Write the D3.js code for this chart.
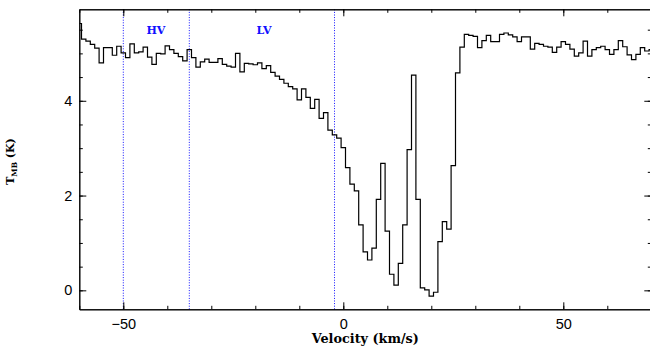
<!DOCTYPE html>
<html>
<head>
<meta charset="utf-8">
<script src="https://cdn.jsdelivr.net/npm/d3@7"></script>
<style>
  html, body { margin: 0; padding: 0; background: #fff; }
  svg { display: block; }
</style>
</head>
<body>
<svg id="chart" width="650" height="347"></svg>
<script>
// Channel centre velocities (km/s)
const velocity = [
  -60,-59,-58,-57,-56,-55,-54,-53,-52,-51,-50,-49,-48,-47,-46,-45,-44,-43,-42,-41,
  -40,-39,-38,-37,-36,-35,-34,-33,-32,-31,-30,-29,-28,-27,-26,-25,-24,-23,-22,-21,
  -20,-19,-18,-17,-16,-15,-14,-13,-12,-11,-10,-9,-8,-7,-6,-5,-4,-3,-2,-1,
  0,1,2,3,4,5,6,7,8,9,10,11,12,13,14,15,16,17,18,19,
  20,21,22,23,24,25,26,27,28,29,30,31,32,33,34,35,36,37,38,39,
  40,41,42,43,44,45,46,47,48,49,50,51,52,53,54,55,56,57,58,59,
  60,61,62,63,64,65,66,67,68,69,70
];

// Main-beam brightness temperature per channel (K)
const tmb = [
  5.63,5.30,5.26,5.19,5.11,4.80,5.12,5.12,4.96,5.15,5.01,4.91,5.20,5.01,5.03,5.13,4.92,4.77,5.00,4.99,
  5.16,5.08,5.00,4.93,4.84,5.08,4.91,4.71,4.82,4.88,4.81,4.81,4.89,4.77,4.73,4.71,5.00,4.61,4.79,4.78,
  4.76,4.80,4.68,4.74,4.60,4.52,4.45,4.37,4.30,4.25,4.02,4.25,4.07,3.84,4.03,3.63,3.75,3.38,3.28,3.21,
  3.01,2.59,2.24,2.10,1.38,0.81,0.64,0.89,1.92,2.68,1.25,0.34,0.11,0.57,1.38,2.97,4.54,1.92,0.05,0.01,
  -0.12,-0.04,1.03,1.45,1.29,2.63,4.59,5.13,5.40,5.38,5.36,5.12,5.27,5.38,5.25,5.25,5.40,5.43,5.39,5.35,
  5.25,5.35,5.35,5.09,5.21,5.19,5.15,5.13,5.02,5.13,5.25,5.19,5.09,4.94,5.01,5.26,4.94,5.08,5.12,5.15,
  5.08,4.98,5.08,5.27,5.14,4.97,4.87,4.98,5.12,5.05,5.08
];

// Velocity markers and their region labels
const markerVelocities = [-50, -35, -2];
const regionLabels = ["HV", "LV"];
const regionLabelVelocities = [-42.6, -18];

// Axis ticks
const xMajorTicks = [-50, 0, 50];
const xMinorTicks = [-60,-50,-40,-30,-20,-10,0,10,20,30,40,50,60,70];
const yMajorTicks = [0, 2, 4];
const yMinorTicks = [0,0.5,1,1.5,2,2.5,3,3.5,4,4.5,5,5.5];

const svg = d3.select("#chart");
const plotLeft = 79.3, plotRight = 651.3, plotTop = 9.3, plotBottom = 309.3;
const serif = "'DejaVu Serif', serif";
const sans = "'Liberation Sans', Arial, sans-serif";

const x = d3.scaleLinear().domain([-60, 70]).range([plotLeft, plotRight]);
const y = d3.scaleLinear().domain([-0.4, 5.93]).range([plotBottom, plotTop]);

svg.append("defs").append("clipPath").attr("id", "plotClip")
  .append("rect").attr("x", plotLeft).attr("y", plotTop)
  .attr("width", plotRight - plotLeft).attr("height", plotBottom - plotTop);

// Dotted velocity markers
svg.append("g").selectAll("line").data(markerVelocities).join("line")
  .attr("x1", d => x(d)).attr("x2", d => x(d))
  .attr("y1", plotTop).attr("y2", plotBottom)
  .attr("stroke", "#1010ff").attr("stroke-width", 1)
  .attr("stroke-dasharray", "1,1.6");

// Region labels
svg.append("g").selectAll("text").data(regionLabels).join("text")
  .attr("x", (d, i) => x(regionLabelVelocities[i]))
  .attr("y", 33.5)
  .attr("text-anchor", "middle")
  .attr("font-family", serif)
  .attr("font-weight", "bold")
  .attr("font-size", 11)
  .attr("fill", "#1010ff")
  .text(d => d);

// Spectrum
const pts = velocity.map((v, i) => [v, tmb[i]]);
svg.append("path")
  .attr("clip-path", "url(#plotClip)")
  .attr("d", d3.line().x(d => x(d[0])).y(d => y(d[1])).curve(d3.curveStep)(pts))
  .attr("fill", "none").attr("stroke", "#000").attr("stroke-width", 1.2);

// Frame axes with inward ticks
function styleAxis(g) {
  g.select(".domain").attr("stroke", "#000").attr("stroke-width", 1);
  g.selectAll(".tick line").attr("stroke", "#000").attr("stroke-width", 1);
}
const fmt = d3.format("d");
const bottomMinor = d3.axisBottom(x).tickValues(xMinorTicks).tickSize(-3.5).tickFormat("").tickSizeOuter(0);
const bottomMajor = d3.axisBottom(x).tickValues(xMajorTicks).tickSize(-7).tickPadding(9).tickFormat(fmt).tickSizeOuter(0);
const topMinor = d3.axisTop(x).tickValues(xMinorTicks).tickSize(-3.5).tickFormat("").tickSizeOuter(0);
const topMajor = d3.axisTop(x).tickValues(xMajorTicks).tickSize(-7).tickFormat("").tickSizeOuter(0);
const leftMinor = d3.axisLeft(y).tickValues(yMinorTicks).tickSize(-3.5).tickFormat("").tickSizeOuter(0);
const leftMajor = d3.axisLeft(y).tickValues(yMajorTicks).tickSize(-7).tickPadding(7).tickFormat(fmt).tickSizeOuter(0);
const rightMinor = d3.axisRight(y).tickValues(yMinorTicks).tickSize(-3.5).tickFormat("").tickSizeOuter(0);
const rightMajor = d3.axisRight(y).tickValues(yMajorTicks).tickSize(-7).tickFormat("").tickSizeOuter(0);

[[bottomMinor, `0,${plotBottom}`], [bottomMajor, `0,${plotBottom}`],
 [topMinor, `0,${plotTop}`], [topMajor, `0,${plotTop}`],
 [leftMinor, `${plotLeft},0`], [leftMajor, `${plotLeft},0`],
 [rightMinor, `${plotRight},0`], [rightMajor, `${plotRight},0`]].forEach(([ax, tr]) => {
  const g = svg.append("g").attr("transform", `translate(${tr})`).call(ax);
  styleAxis(g);
  g.selectAll("text")
    .attr("font-family", sans)
    .attr("font-size", 14.5).attr("fill", "#000");
});

// Axis titles
svg.append("text")
  .attr("x", (plotLeft + plotRight) / 2).attr("y", 343)
  .attr("text-anchor", "middle")
  .attr("font-family", serif)
  .attr("font-weight", "bold").attr("font-size", 12.8)
  .text("Velocity (km/s)");

const yt = svg.append("text")
  .attr("transform", `translate(14,161.5) rotate(-90)`)
  .attr("text-anchor", "middle")
  .attr("font-family", serif)
  .attr("font-weight", "bold").attr("font-size", 11);
yt.append("tspan").text("T");
yt.append("tspan").attr("font-size", 7.5).attr("dy", 3).text("MB");
yt.append("tspan").attr("dy", -3).text(" (K)");
</script>
</body>
</html>
